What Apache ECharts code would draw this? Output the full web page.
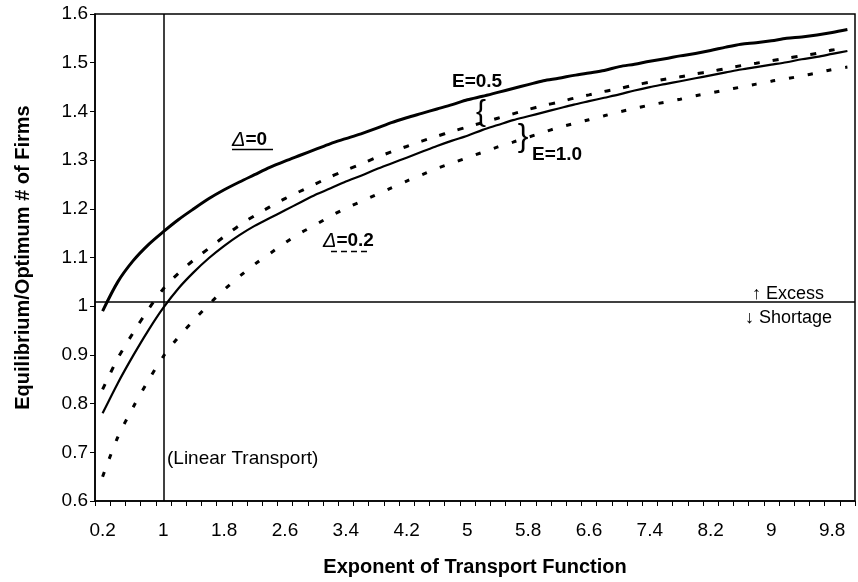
<!DOCTYPE html>
<html>
<head>
<meta charset="utf-8">
<script src="https://cdn.jsdelivr.net/npm/echarts@6/dist/echarts.min.js"></script>
<style>
html,body{margin:0;padding:0;background:#fff;}
#chart{width:858px;height:582px;}
</style>
</head>
<body>
<div id="chart"></div>
<script>
// Exponent of transport function (category axis)
const categories = ['0.2','0.4','0.6','0.8','1','1.2','1.4','1.6','1.8','2',
  '2.2','2.4','2.6','2.8','3','3.2','3.4','3.6','3.8','4',
  '4.2','4.4','4.6','4.8','5','5.2','5.4','5.6','5.8','6',
  '6.2','6.4','6.6','6.8','7','7.2','7.4','7.6','7.8','8',
  '8.2','8.4','8.6','8.8','9','9.2','9.4','9.6','9.8','10'];

// Δ=0, E=0.5 (thick solid)
const delta0_E05 = [0.99,1.050,1.093,1.126,1.153,1.178,1.200,1.221,1.239,1.255,
  1.270,1.285,1.298,1.310,1.322,1.334,1.344,1.354,1.365,1.377,
  1.387,1.396,1.405,1.414,1.424,1.431,1.439,1.447,1.455,1.463,
  1.468,1.474,1.479,1.484,1.492,1.497,1.503,1.508,1.514,1.519,
  1.525,1.532,1.538,1.541,1.545,1.550,1.553,1.557,1.562,1.568];

// Δ=0, E=1.0 (thin solid)
const delta0_E10 = [0.78,0.842,0.898,0.950,0.997,1.037,1.070,1.099,1.124,1.146,
  1.165,1.181,1.197,1.213,1.229,1.242,1.256,1.268,1.281,1.293,
  1.305,1.317,1.329,1.340,1.350,1.362,1.372,1.382,1.390,1.398,
  1.406,1.414,1.421,1.428,1.435,1.443,1.450,1.456,1.462,1.468,
  1.474,1.480,1.486,1.491,1.496,1.501,1.507,1.512,1.518,1.524];

// Δ=0.2, E=0.5 (dashed)
const delta02_E05 = [0.829,0.893,0.945,0.993,1.036,1.068,1.095,1.119,1.143,1.166,
  1.186,1.204,1.221,1.236,1.251,1.266,1.279,1.292,1.305,1.317,
  1.328,1.339,1.349,1.359,1.368,1.377,1.386,1.395,1.404,1.412,
  1.419,1.427,1.434,1.441,1.447,1.454,1.460,1.466,1.471,1.477,
  1.482,1.488,1.494,1.499,1.504,1.509,1.514,1.519,1.526,1.531];

// Δ=0.2, E=1.0 (dotted)
const delta02_E10 = [0.650,0.731,0.792,0.847,0.897,0.937,0.971,1.004,1.034,1.061,
  1.086,1.108,1.130,1.150,1.167,1.185,1.201,1.215,1.229,1.243,
  1.257,1.270,1.283,1.294,1.305,1.316,1.327,1.337,1.347,1.357,
  1.367,1.375,1.383,1.391,1.399,1.406,1.413,1.419,1.425,1.432,
  1.438,1.444,1.450,1.456,1.462,1.467,1.473,1.479,1.486,1.491];

const yMin = 0.6, yMax = 1.6, yStep = 0.1;
const excessLevel = 1.012;          // excess / shortage divider
const linearTransportCategory = '1'; // vertical reference line

const FONT = '"Liberation Sans", Arial, Helvetica, sans-serif';

const chart = echarts.init(document.getElementById('chart'), null, {renderer: 'canvas'});

function lineSeries(name, data, width, type) {
  return {
    name: name, type: 'line', data: data,
    symbol: 'none', smooth: 0.3, animation: false,
    lineStyle: {color: '#000', width: width, type: type, cap: 'butt'},
    z: 3
  };
}

const s1 = lineSeries('Δ=0, E=0.5', delta0_E05, 3, 'solid');
s1.markLine = {
  silent: true, symbol: 'none', animation: false,
  label: {show: false},
  lineStyle: {color: '#000', width: 1.5, type: 'solid'},
  data: [{yAxis: excessLevel}, {xAxis: linearTransportCategory}]
};

const option = {
  backgroundColor: '#fff',
  animation: false,
  grid: {left: 95, right: 3, top: 14, bottom: 78, show: true, borderColor: '#000', borderWidth: 1.5},
  xAxis: {
    type: 'category', data: categories, boundaryGap: true,
    name: 'Exponent of Transport Function', nameLocation: 'middle', nameGap: 56,
    nameTextStyle: {fontFamily: FONT, fontWeight: 'bold', fontSize: 20, color: '#000'},
    axisLine: {lineStyle: {color: '#000', width: 1.5}},
    axisTick: {show: true, interval: 0, length: 5, lineStyle: {color: '#000', width: 1}},
    axisLabel: {interval: 3, color: '#000', fontFamily: FONT, fontSize: 19, margin: 20},
    splitLine: {show: false}
  },
  yAxis: {
    type: 'value', min: yMin, max: yMax, interval: yStep,
    name: 'Equilibrium/Optimum # of Firms', nameLocation: 'middle', nameGap: 62,
    nameTextStyle: {fontFamily: FONT, fontWeight: 'bold', fontSize: 20, color: '#000'},
    axisLine: {show: true, lineStyle: {color: '#000', width: 1.5}},
    axisTick: {show: true, length: 5, lineStyle: {color: '#000', width: 1}},
    axisLabel: {color: '#000', fontFamily: FONT, fontSize: 19, margin: 7,
      formatter: v => String(Math.round(v * 10) / 10)},
    splitLine: {show: false}
  },
  series: [
    s1,
    lineSeries('Δ=0, E=1.0', delta0_E10, 2.2, 'solid'),
    lineSeries('Δ=0.2, E=0.5', delta02_E05, 3, [6, 13]),
    lineSeries('Δ=0.2, E=1.0', delta02_E10, 3, [5, 14])
  ],
  graphic: {elements: [
    {type: 'text', x: 232, y: 140, z: 10, style: {
      text: '{d|Δ}{n|=0}', verticalAlign: 'middle', align: 'left',
      rich: {d: {fontFamily: FONT, fontStyle: 'italic', fontSize: 20, fill: '#000'},
             n: {fontFamily: FONT, fontWeight: 'bold', fontSize: 19, fill: '#000'}}}},
    {type: 'line', z: 10, shape: {x1: 232, y1: 149.5, x2: 273, y2: 149.5}, style: {stroke: '#000', lineWidth: 1.5}},
    {type: 'text', x: 323, y: 241, z: 10, style: {
      text: '{d|Δ}{n|=0.2}', verticalAlign: 'middle', align: 'left',
      rich: {d: {fontFamily: FONT, fontStyle: 'italic', fontSize: 20, fill: '#000'},
             n: {fontFamily: FONT, fontWeight: 'bold', fontSize: 19, fill: '#000'}}}},
    {type: 'line', z: 10, shape: {x1: 331, y1: 251.5, x2: 368, y2: 251.5}, style: {stroke: '#000', lineWidth: 1.5, lineDash: [6, 4]}},
    {type: 'text', x: 452, y: 82, z: 10, style: {text: 'E=0.5', fontFamily: FONT, fontWeight: 'bold', fontSize: 19, fill: '#000', verticalAlign: 'middle', align: 'left'}},
    {type: 'text', x: 532, y: 155, z: 10, style: {text: 'E=1.0', fontFamily: FONT, fontWeight: 'bold', fontSize: 19, fill: '#000', verticalAlign: 'middle', align: 'left'}},
    {type: 'text', x: 481, y: 113, z: 10, style: {text: '{', fontFamily: FONT, fontSize: 30, fill: '#000', verticalAlign: 'middle', align: 'center'}},
    {type: 'text', x: 523, y: 137, z: 10, style: {text: '}', fontFamily: FONT, fontSize: 32, fill: '#000', verticalAlign: 'middle', align: 'center'}},
    {type: 'text', x: 752, y: 294, z: 10, style: {text: '↑ Excess', fontFamily: FONT, fontSize: 18, fill: '#000', verticalAlign: 'middle', align: 'left'}},
    {type: 'text', x: 745, y: 318, z: 10, style: {text: '↓ Shortage', fontFamily: FONT, fontSize: 18, fill: '#000', verticalAlign: 'middle', align: 'left'}},
    {type: 'text', x: 167, y: 459, z: 10, style: {text: '(Linear Transport)', fontFamily: FONT, fontSize: 19, fill: '#000', verticalAlign: 'middle', align: 'left'}}
  ]}
};

chart.setOption(option);
</script>
</body>
</html>
